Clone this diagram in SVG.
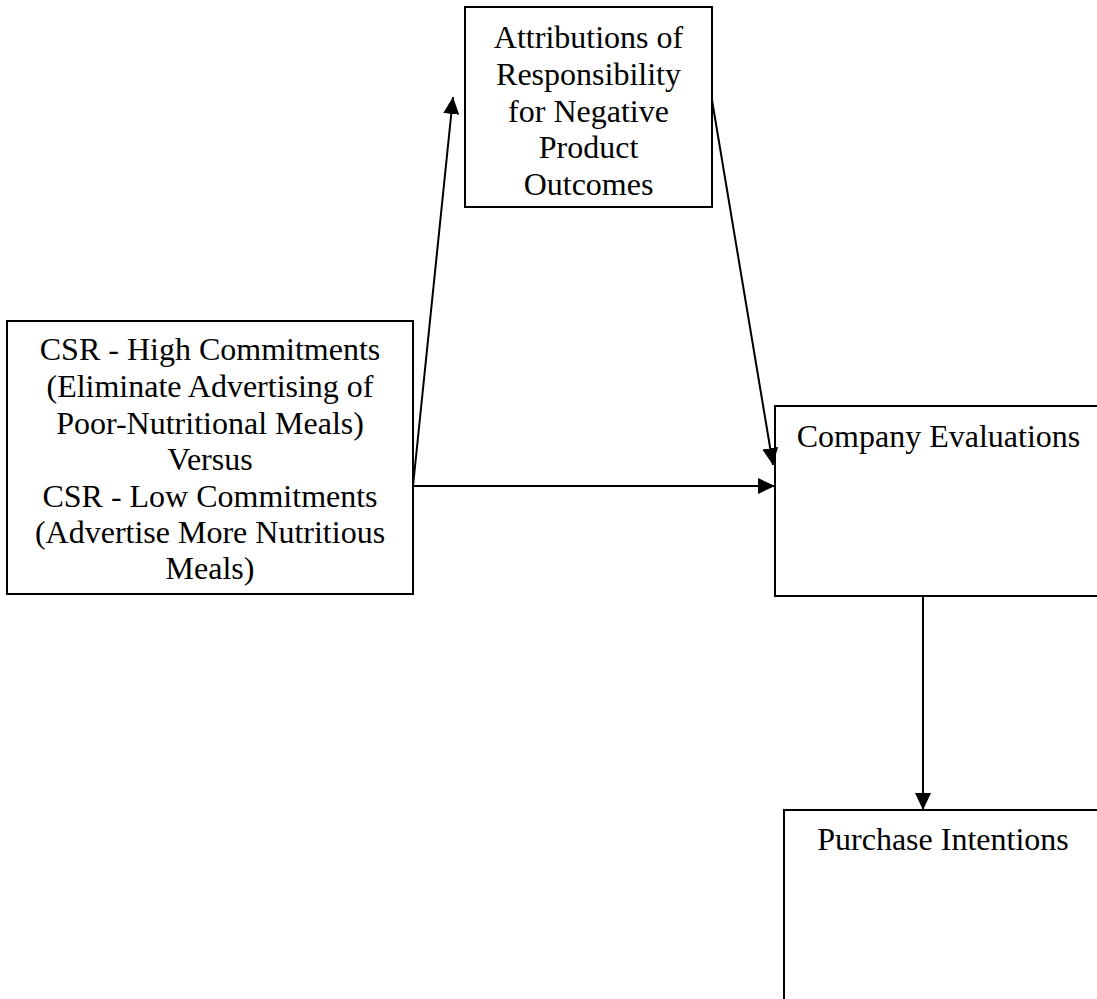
<svg xmlns="http://www.w3.org/2000/svg" width="1097" height="999" viewBox="0 0 1097 999">
<style>
.box{fill:#fff;stroke:#000;stroke-width:2}
.t{font-family:"Liberation Serif","Times New Roman",serif;font-size:32px;fill:#000;text-anchor:middle}
.c{stroke:#000;stroke-width:2;fill:none}
</style>
<defs>
<marker id="ah" markerUnits="userSpaceOnUse" markerWidth="18" markerHeight="16" refX="17" refY="8" orient="auto">
<path d="M0,0 L17,8 L0,16 Z" fill="#000"/>
</marker>
</defs>
<rect width="1097" height="999" fill="#fff"/>
<g id="attributions">
<rect class="box" x="465" y="7" width="247" height="200"/>
<text class="t" x="588.5" y="48">Attributions of</text>
<text class="t" x="588.5" y="85">Responsibility</text>
<text class="t" x="588.5" y="122">for Negative</text>
<text class="t" x="588.5" y="158">Product</text>
<text class="t" x="588.5" y="195">Outcomes</text>
</g>
<g id="csr">
<rect class="box" x="7" y="321" width="406" height="273"/>
<text class="t" x="210" y="360">CSR - High Commitments</text>
<text class="t" x="210" y="397">(Eliminate Advertising of</text>
<text class="t" x="210" y="434">Poor-Nutritional Meals)</text>
<text class="t" x="210" y="470">Versus</text>
<text class="t" x="210" y="507">CSR - Low Commitments</text>
<text class="t" x="210" y="543">(Advertise More Nutritious</text>
<text class="t" x="210" y="579">Meals)</text>
</g>
<g id="company">
<rect class="box" x="775" y="406" width="327" height="190"/>
<text class="t" x="938.5" y="447">Company Evaluations</text>
</g>
<g id="purchase">
<rect class="box" x="784" y="810" width="318" height="200"/>
<text class="t" x="943" y="850">Purchase Intentions</text>
</g>
<g id="connectors">
<line class="c" x1="413" y1="486" x2="453" y2="97" marker-end="url(#ah)"/>
<line class="c" x1="712" y1="100" x2="773" y2="465" marker-end="url(#ah)"/>
<line class="c" x1="413" y1="486" x2="775" y2="486" marker-end="url(#ah)"/>
<line class="c" x1="923" y1="596" x2="923" y2="810" marker-end="url(#ah)"/>
</g>
</svg>
